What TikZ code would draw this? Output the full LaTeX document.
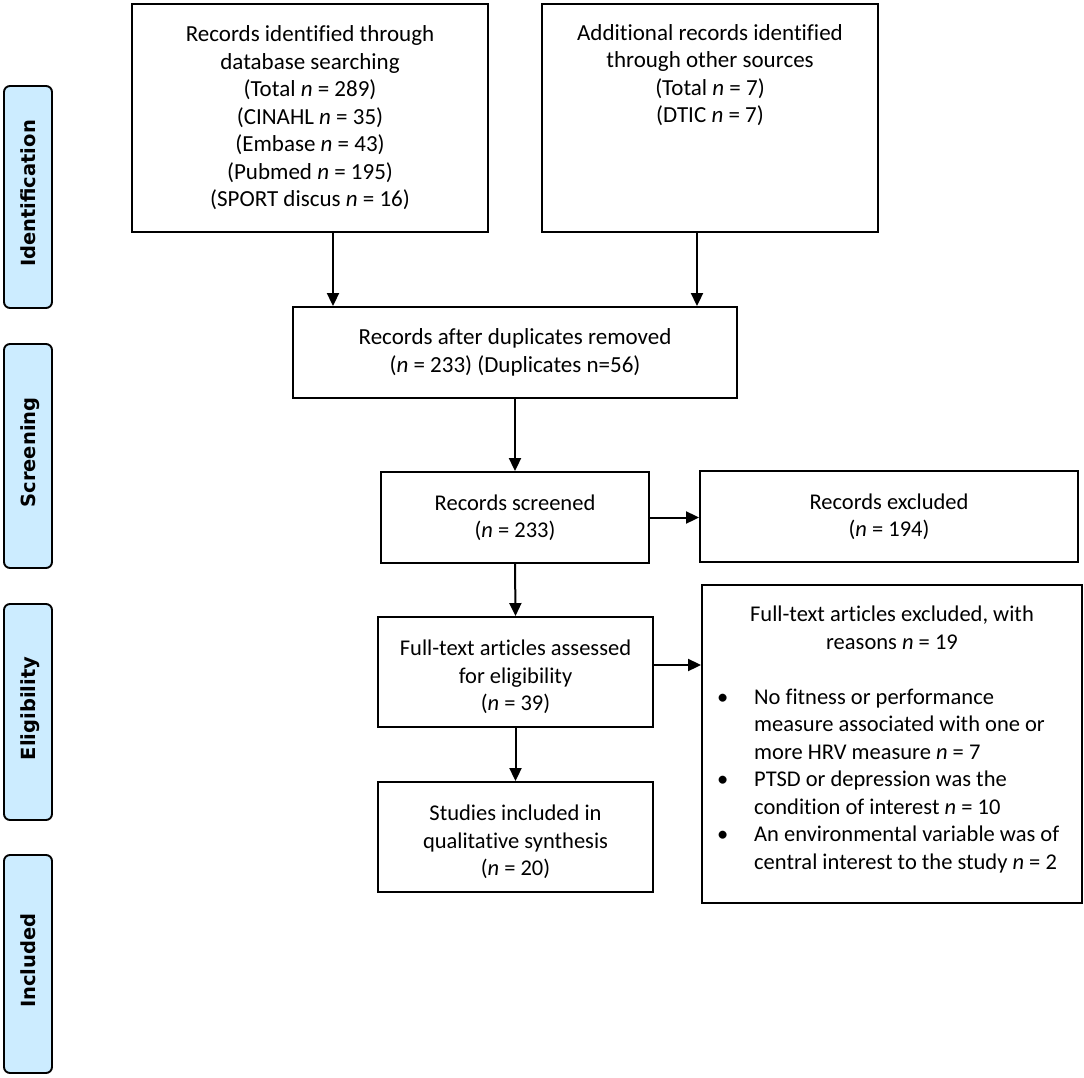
\documentclass[tikz,border=0pt]{standalone}
\usepackage{fontspec}
\setmainfont{Carlito}[Ligatures=NoCommon]
\newfontfamily\sidefont{DejaVu Sans}
\usetikzlibrary{arrows.meta,calc}
\definecolor{sideblue}{RGB}{204,236,255}
\begin{document}
\begin{tikzpicture}[x=1pt,y=-1pt,
  box/.style={draw, line width=1.9pt, inner sep=0pt, align=center,
    font=\fontsize{22.5}{27.5}\selectfont},
  bigbox/.style={box, font=\fontsize{23}{27.5}\selectfont},
  txt/.style={inner sep=0pt, align=center, font=\fontsize{22.5}{27.5}\selectfont},
  side/.style={draw, line width=1.9pt, rounded corners=6pt, fill=sideblue,
    minimum width=48pt, inner sep=0pt},
  sidelabel/.style={rotate=90, inner sep=0pt, text height=14pt, text depth=0pt,
    font=\sidefont\bfseries\fontsize{19.5}{22}\selectfont},
  arr/.style={line width=2pt, -{Triangle[length=13pt,width=12pt]}}]
\useasboundingbox[fill=white] (0,0) rectangle (1084,1078);

% stage bars
\node[side, minimum height=222pt] (s1) at (28,197) {};
\node[sidelabel, xshift=3.5pt] (l1) at (s1.center) {Identification};
\node[side, minimum height=224pt] (s2) at (28,456) {};
\node[sidelabel, xshift=3.5pt] (l2) at (s2.center) {Screening};
\node[side, minimum height=216pt] (s3) at (28,712) {};
\node[sidelabel, xshift=3.5pt] (l3) at (s3.center) {Eligibility};
\node[side, minimum height=218pt] (s4) at (28,964) {};
\node[sidelabel, xshift=3.5pt] (l4) at (s4.center) {Included};

% boxes
\node[bigbox, minimum width=356pt, minimum height=228pt] (b1) at (310,118)
  {Records identified through\\ database searching\\ (Total \textit{n} = 289)\\
   (CINAHL \textit{n} = 35)\\ (Embase \textit{n} = 43)\\ (Pubmed \textit{n} = 195)\\
   (SPORT discus \textit{n} = 16)};
\node[bigbox, minimum width=336pt, minimum height=228pt] (b2) at (710,118) {};
\node[txt, anchor=north, font=\fontsize{23}{27.5}\selectfont] (t2) at (710,24)
  {Additional records identified\\ through other sources\\ (Total \textit{n} = 7)\\
   (DTIC \textit{n} = 7)};
\node[bigbox, minimum width=444pt, minimum height=91pt] (b3) at (515,352.5)
  {Records after duplicates removed\\ (\textit{n} = 233) (Duplicates n=56)};
\node[box, minimum width=268pt, minimum height=91pt] (b4) at (515,517.5)
  {Records screened\\ (\textit{n} = 233)};
\node[box, minimum width=378pt, minimum height=91pt] (b5) at (889,516.5)
  {Records excluded\\ (\textit{n} = 194)};
\node[box, minimum width=275pt, minimum height=110pt] (b6) at (515.5,672) {};
\node[txt] (t6) at ([yshift=-5pt]b6.center)
  {Full-text articles assessed\\ for eligibility\\ (\textit{n} = 39)};
\node[box, minimum width=275pt, minimum height=110pt] (b8) at (515.5,837) {};
\node[txt] (t8) at ([yshift=-5pt]b8.center)
  {Studies included in\\ qualitative synthesis\\ (\textit{n} = 20)};
\node[box, minimum width=380pt, minimum height=318pt] (b7) at (892,744) {};
\node[txt, anchor=north] (t7) at (892,606)
  {Full-text articles excluded, with\\ reasons \textit{n} = 19};
\node[txt, anchor=north west, align=left] (t7b) at (717,685)
  {\begin{tabular}{@{}l@{}l@{}}
   \makebox[37pt][l]{•} & No fitness or performance\\
    & measure associated with one or\\
    & more HRV measure \textit{n} = 7\\
   \makebox[37pt][l]{•} & PTSD or depression was the\\
    & condition of interest \textit{n} = 10\\
   \makebox[37pt][l]{•} & An environmental variable was of\\
    & central interest to the study \textit{n} = 2
   \end{tabular}};

% connectors
\draw[arr] ([xshift=23pt]b1.south) -- ([xshift=23pt]b1.south |- b3.north);
\draw[arr] ([xshift=-13pt]b2.south) -- ([xshift=-13pt]b2.south |- b3.north);
\draw[arr] (b3.south) -- (b4.north);
\draw[arr] (b4.east) -- (b4.east -| b5.west);
\draw[arr] (b4.south) -- (b6.north);
\draw[arr] ([yshift=7pt]b6.east) -- ([yshift=7pt]b6.east -| b7.west);
\draw[arr] (b6.south) -- (b8.north);
\end{tikzpicture}
\end{document}
